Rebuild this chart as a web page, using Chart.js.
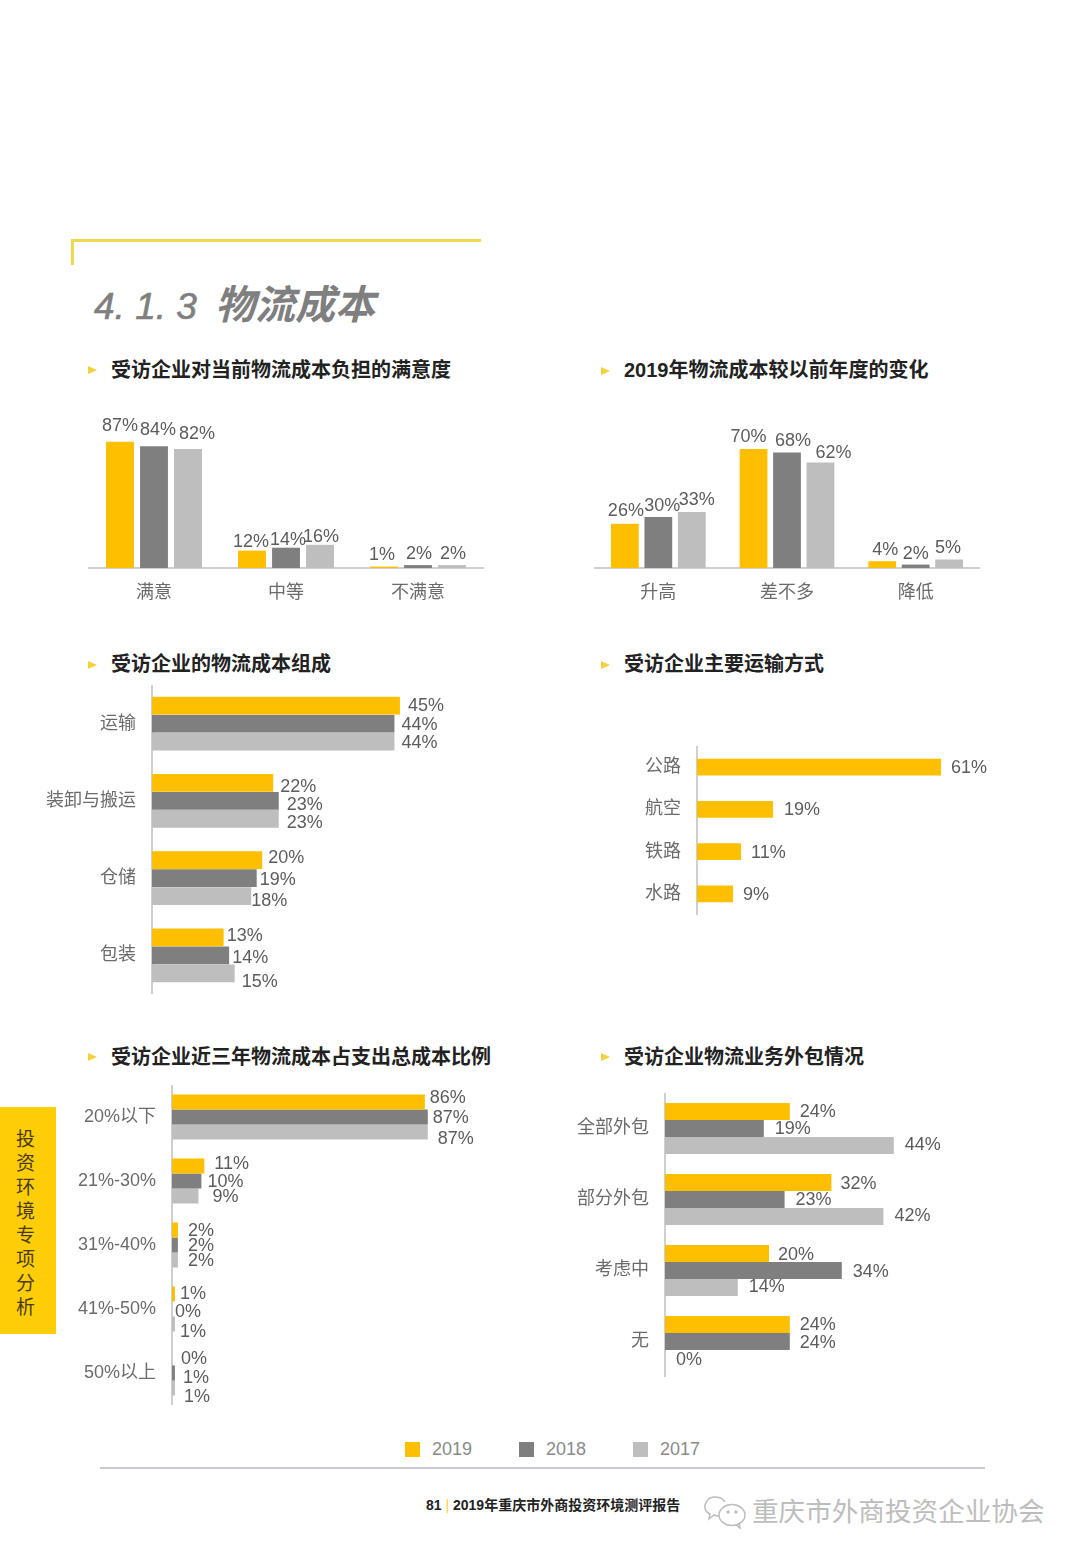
<!DOCTYPE html>
<html lang="zh-CN">
<head>
  <meta charset="UTF-8">
  <title>4.1.3 物流成本</title>
  <script src="https://cdn.jsdelivr.net/npm/chart.js"></script>
  <style>
    html, body { margin: 0; padding: 0; background: #fff; }
    body { position: relative; width: 1080px; height: 1559px; overflow: hidden;
           font-family: "Liberation Sans", "Noto Sans CJK SC", sans-serif; }
    canvas, .abs { position: absolute; }
    .frame-top { left: 72px; top: 239px; width: 409px; height: 3px; background: #f1d94e; }
    .frame-left { left: 71px; top: 239px; width: 3px; height: 26px; background: #f1d94e; }
    .heading { left: 94px; top: 277px; font-size: 40px; line-height: 50px; font-weight: bold; font-style: italic;
               color: #7f7f7f; white-space: pre; font-family: "Noto Sans CJK SC", sans-serif; }
    .heading span { font-family: "Liberation Sans", sans-serif; font-weight: normal; font-size: 37px;
                    -webkit-text-stroke: 0.6px #7f7f7f; }
    .sub { font-size: 20px; line-height: 26px; font-weight: bold; color: #222; white-space: nowrap;
           font-family: "Noto Sans CJK SC", sans-serif; }
    .sub b { font-family: "Liberation Sans", sans-serif; }
    .tri { width: 0; height: 0; border-left: 9px solid #f3d23c; border-top: 4px solid transparent; border-bottom: 4px solid transparent; }
    .tab { left: 0; top: 1107px; width: 56px; height: 227px; background: #fdce08; }
    .tab div { position: absolute; left: 16px; width: 22px; font-size: 19px; line-height: 24px; color: #4a3a10;
               font-family: "Noto Sans CJK SC", sans-serif; }
    .lg-box { width: 15px; height: 15px; top: 1442px; }
    .lg-text { top: 1438px; font-size: 18px; line-height: 22px; color: #8a8a8a; }
    .rule { left: 100px; top: 1467px; width: 885px; height: 2px; background: #c9c9cf; }
    .foot { left: 426px; top: 1496px; font-size: 14px; line-height: 18px; font-weight: bold; color: #222; white-space: nowrap; }
    .foot span { color: #f3d23c; font-weight: normal; }
    .mark { left: 752px; top: 1492px; font-size: 26.6px; line-height: 36px; color: #bdbdbd; white-space: nowrap;
            font-family: "Noto Sans CJK SC", sans-serif; }
  </style>
</head>
<body>

  <div class="abs frame-top"></div>
  <div class="abs frame-left"></div>
  <div class="abs heading"><span>4. 1. 3</span>  物流成本</div>

  <div class="abs tri" style="left:88px;top:366px"></div>
  <div class="abs sub" style="left:111px;top:356px">受访企业对当前物流成本负担的满意度</div>
  <div class="abs tri" style="left:601px;top:367px"></div>
  <div class="abs sub" style="left:624px;top:356px"><b>2019</b>年物流成本较以前年度的变化</div>
  <div class="abs tri" style="left:88px;top:661px"></div>
  <div class="abs sub" style="left:111px;top:650px">受访企业的物流成本组成</div>
  <div class="abs tri" style="left:601px;top:661px"></div>
  <div class="abs sub" style="left:624px;top:650px">受访企业主要运输方式</div>
  <div class="abs tri" style="left:88px;top:1053px"></div>
  <div class="abs sub" style="left:111px;top:1043px">受访企业近三年物流成本占支出总成本比例</div>
  <div class="abs tri" style="left:601px;top:1053px"></div>
  <div class="abs sub" style="left:624px;top:1043px">受访企业物流业务外包情况</div>

  <canvas id="c1" width="396" height="208" style="left:88px;top:400px"></canvas>
  <canvas id="c2" width="386" height="208" style="left:594px;top:400px"></canvas>
  <canvas id="c3" width="500" height="309" style="left:30px;top:685px"></canvas>
  <canvas id="c4" width="480" height="169" style="left:580px;top:746px"></canvas>
  <canvas id="c5" width="480" height="320" style="left:60px;top:1085px"></canvas>
  <canvas id="c6" width="440" height="284" style="left:560px;top:1093px"></canvas>

  <div class="abs tab" id="tab"></div>

  <div class="abs lg-box" style="left:405px;background:#fdbf00"></div>
  <div class="abs lg-text" style="left:432px">2019</div>
  <div class="abs lg-box" style="left:519px;background:#7f7f7f"></div>
  <div class="abs lg-text" style="left:546px">2018</div>
  <div class="abs lg-box" style="left:633px;background:#bebebe"></div>
  <div class="abs lg-text" style="left:660px">2017</div>

  <div class="abs rule"></div>
  <div class="abs foot">81 <span>|</span> 2019年重庆市外商投资环境测评报告</div>

  <svg class="abs" style="left:703px;top:1494px" width="44" height="36" viewBox="0 0 44 36" fill="none" stroke="#bdbdbd" stroke-width="1.5">
    <path d="M22 8 C18 2 8 1 4 7 C0 12 2 18 7 20 L6 25 L11 21 C13 22 15 22 16 22"/>
    <ellipse cx="29" cy="21" rx="13" ry="10.5"/>
    <path d="M33 31 L37 34 L36 29"/>
    <circle cx="25" cy="18" r="1"/><circle cx="33" cy="18" r="1"/>
  </svg>
  <div class="abs mark">重庆市外商投资企业协会</div>

  <script>
  const years = ['2019', '2018', '2017'];
  const colors = ['#fdbf00', '#7f7f7f', '#bebebe'];
  const tabText = ['投', '资', '环', '境', '专', '项', '分', '析'];

  // chart 1
  const satisfyCats = ['满意', '中等', '不满意'];
  const satisfy2019 = [87, 12, 1];
  const satisfy2018 = [84, 14, 2];
  const satisfy2017 = [82, 16, 2];

  // chart 2
  const changeCats = ['升高', '差不多', '降低'];
  const change2019 = [26, 70, 4];
  const change2018 = [30, 68, 2];
  const change2017 = [33, 62, 5];

  // chart 3
  const partCats = ['运输', '装卸与搬运', '仓储', '包装'];
  const part2019 = [45, 22, 20, 13];
  const part2018 = [44, 23, 19, 14];
  const part2017 = [44, 23, 18, 15];

  // chart 4
  const modeCats = ['公路', '航空', '铁路', '水路'];
  const modeValues = [61, 19, 11, 9];

  // chart 5
  const shareCats = ['20%以下', '21%-30%', '31%-40%', '41%-50%', '50%以上'];
  const share2019 = [86, 11, 2, 1, 0];
  const share2018 = [87, 10, 2, 0, 1];
  const share2017 = [87, 9, 2, 1, 1];

  // chart 6
  const outCats = ['全部外包', '部分外包', '考虑中', '无'];
  const out2019 = [24, 32, 20, 24];
  const out2018 = [19, 23, 34, 24];
  const out2017 = [44, 42, 14, 0];

  // the labels in the original were placed by hand, so each one gets a small [dx, dy] per dataset
  const nudge1 = [[[0,-3],[-1,4],[-2,1]], [[4,-3],[2,5],[1,2]], [[9,-2],[1,5],[1,2]]];
  const nudge2 = [[[1,0],[-5,1],[3,2]], [[4,2],[6,2],[0,2]], [[5,1],[13,3],[-1,2]]];
  const nudge3 = [[[0,-1],[-1,3],[-2,-3],[-5,-2]], [[-1,0],[0,3],[-5,1],[-5,2]], [[-1,0],[0,3],[-8,4],[-1,8]]];
  const nudge4 = [[[2,0],[3,0],[2,0],[2,0]]];
  const nudge5 = [[[-3,-5],[2,-3],[2,0],[-3,-1],[1,0]], [[-3,0],[-2,0],[2,0],[-5,2],[0,4]], [[2,6],[6,0],[2,0],[-3,7],[1,8]]];
  const nudge6 = [[[2,0],[1,1],[1,1],[2,0]], [[3,0],[3,0],[3,1],[2,1]], [[3,-1],[3,-1],[3,-1],[3,1]]];

  const tickColor = '#6b6b6b';
  const labelColor = '#5c5c5c';
  const axisColor = '#cfcfcf';
  const fontFamily = '"Liberation Sans", "Noto Sans CJK SC", sans-serif';

  // draws the NN% labels next to the bars
  const valueLabels = {
    id: 'valueLabels',
    afterDatasetsDraw(chart, args, opts) {
      const ctx = chart.ctx;
      const horizontal = chart.options.indexAxis === 'y';
      ctx.save();
      ctx.font = '18px ' + fontFamily;
      ctx.fillStyle = labelColor;
      ctx.textBaseline = 'middle';
      ctx.textAlign = horizontal ? 'left' : 'center';
      chart.data.datasets.forEach((ds, d) => {
        chart.getDatasetMeta(d).data.forEach((bar, i) => {
          const n = opts.nudge[d][i];
          const x = horizontal ? bar.x + 8 : bar.x;
          const y = horizontal ? bar.y + 1 : bar.y - 13;
          ctx.fillText(ds.data[i] + '%', x + n[0], y + n[1]);
        });
      });
      ctx.restore();
    }
  };

  function columnChart(id, cats, series, pxPerUnit, axisHeight, catPct, barPct, nudge) {
    const canvas = document.getElementById(id);
    new Chart(canvas, {
      type: 'bar',
      data: {
        labels: cats,
        datasets: series.map((values, i) => ({
          label: years[i], data: values, backgroundColor: colors[i],
          categoryPercentage: catPct, barPercentage: barPct
        }))
      },
      options: {
        responsive: false,
        animation: false,
        layout: { padding: 0 },
        plugins: { legend: { display: false }, tooltip: { enabled: false }, valueLabels: { nudge: nudge } },
        scales: {
          x: {
            grid: { display: false },
            border: { color: axisColor, width: 2 },
            ticks: { color: tickColor, font: { size: 18, family: fontFamily }, padding: 6, maxRotation: 0 },
            afterFit(scale) { scale.height = axisHeight; }
          },
          y: { display: false, min: 0, max: (canvas.height - axisHeight) / pxPerUnit }
        }
      },
      plugins: [valueLabels]
    });
  }

  function barChart(id, cats, series, pxPerUnit, axisWidth, catPct, barPct, nudge) {
    const canvas = document.getElementById(id);
    new Chart(canvas, {
      type: 'bar',
      data: {
        labels: cats,
        datasets: series.map((values, i) => ({
          label: years[i], data: values, backgroundColor: colors[i],
          categoryPercentage: catPct, barPercentage: barPct
        }))
      },
      options: {
        indexAxis: 'y',
        responsive: false,
        animation: false,
        layout: { padding: 0 },
        plugins: { legend: { display: false }, tooltip: { enabled: false }, valueLabels: { nudge: nudge } },
        scales: {
          y: {
            grid: { display: false },
            border: { color: axisColor, width: 2 },
            ticks: { color: tickColor, font: { size: 18, family: fontFamily }, padding: 8 },
            // keep the plot the full canvas height, the tick padding would shrink it otherwise
            afterFit(scale) { scale.width = axisWidth; scale.paddingTop = 0; scale.paddingBottom = 0; }
          },
          x: { display: false, min: 0, max: (canvas.width - axisWidth) / pxPerUnit }
        }
      },
      plugins: [valueLabels]
    });
  }

  columnChart('c1', satisfyCats, [satisfy2019, satisfy2018, satisfy2017], 1.45, 40, 0.773, 0.82, nudge1);
  columnChart('c2', changeCats, [change2019, change2018, change2017], 1.7, 40, 0.78, 0.83, nudge2);
  barChart('c3', partCats, [part2019, part2018, part2017], 5.51, 122, 0.7, 0.98, nudge3);
  barChart('c4', modeCats, [modeValues], 4, 117, 0.4, 1, nudge4);
  barChart('c5', shareCats, [share2019, share2018, share2017], 2.94, 112, 0.703, 1, nudge5);
  barChart('c6', outCats, [out2019, out2018, out2017], 5.2, 105, 0.718, 1, nudge6);

  // vertical text on the side tab
  const tab = document.getElementById('tab');
  tabText.forEach((ch, i) => {
    const el = document.createElement('div');
    el.textContent = ch;
    el.style.top = (19 + i * 24) + 'px';
    tab.appendChild(el);
  });
  </script>

</body>
</html>
